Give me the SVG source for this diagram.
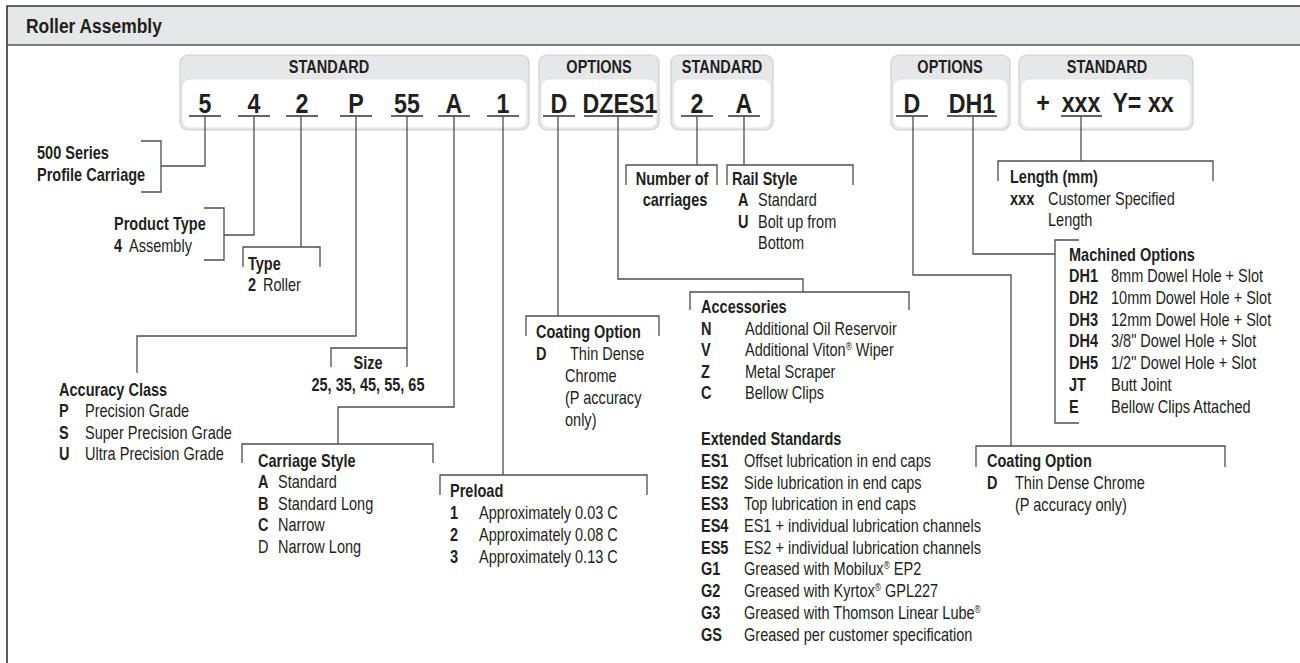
<svg xmlns="http://www.w3.org/2000/svg" width="1300" height="663" viewBox="0 0 1300 663">
<style>
text{font-family:"Liberation Sans",Arial,sans-serif;fill:#231f20;transform-box:fill-box;transform-origin:0 0;transform:scale(.83,1)}
.b{font-weight:bold;font-size:17.5px}
.r{font-size:17.5px}
.h{font-weight:bold;font-size:17.5px;text-anchor:middle;transform-origin:50% 0}
.c{font-weight:bold;font-size:28px;text-anchor:middle;transform-origin:50% 0}
.t{font-weight:bold;font-size:21px}
.m{text-anchor:middle;transform-origin:50% 0}
.box{fill:#e6e7e8;stroke:#cfd0d2;stroke-width:1.2}
.inner{fill:#fff;stroke:#e2e3e4;stroke-width:1}
.ul{stroke:#333;stroke-width:1.6}
.ln{fill:none;stroke:#4d4d4d;stroke-width:1.3}
.sup{font-size:10px}
</style>
<g id="frame">
<rect x="7" y="6" width="1300" height="39" fill="#e6e7e8"/>
<path d="M7,663 V6 H1300" fill="none" stroke="#333" stroke-width="1.6"/>
<line x1="7" y1="45" x2="1300" y2="45" stroke="#555" stroke-width="1.4"/>
<text class="t" x="26" y="33">Roller Assembly</text>
</g>
<g id="n-std1">
<rect class="box" x="180" y="55" width="349" height="75" rx="8"/>
<rect class="inner" x="182" y="79" width="345" height="49" rx="8"/>
<text class="h" x="329" y="73">STANDARD</text>
<text class="c" x="205" y="113">5</text>
<text class="c" x="254" y="113">4</text>
<text class="c" x="302" y="113">2</text>
<text class="c" x="356" y="113">P</text>
<text class="c" x="407" y="113">55</text>
<text class="c" x="454" y="113">A</text>
<text class="c" x="503" y="113">1</text>
<path class="ul" d="M189,116H221M238,116H270M286,116H318M340,116H372M391,116H423M438,116H470M487,116H519"/>
</g>
<g id="n-opt1">
<rect class="box" x="539" y="55" width="120" height="75" rx="8"/>
<rect class="inner" x="541" y="79" width="116" height="49" rx="8"/>
<text class="h" x="599" y="73">OPTIONS</text>
<text class="c" x="559" y="113">D</text>
<text class="c" x="620" y="113">DZES1</text>
<path class="ul" d="M543,116H575M584,116H653"/>
</g>
<g id="n-std2">
<rect class="box" x="671" y="55" width="102" height="75" rx="8"/>
<rect class="inner" x="673" y="79" width="98" height="49" rx="8"/>
<text class="h" x="722" y="73">STANDARD</text>
<text class="c" x="697" y="113">2</text>
<text class="c" x="744" y="113">A</text>
<path class="ul" d="M681,116H713M728,116H760"/>
</g>
<g id="n-opt2">
<rect class="box" x="891" y="55" width="119" height="75" rx="8"/>
<rect class="inner" x="893" y="79" width="115" height="49" rx="8"/>
<text class="h" x="950" y="73">OPTIONS</text>
<text class="c" x="912" y="113">D</text>
<text class="c" x="972" y="113">DH1</text>
<path class="ul" d="M896,116H928M947,116H997"/>
</g>
<g id="n-std3">
<rect class="box" x="1019" y="55" width="174" height="75" rx="8"/>
<rect class="inner" x="1021" y="79" width="170" height="49" rx="8"/>
<text class="h" x="1107" y="73">STANDARD</text>
<text class="c" x="1043" y="112">+</text>
<text class="c" x="1081" y="112">xxx</text>
<text class="c" x="1143" y="112">Y= xx</text>
<path class="ul" d="M1061,116H1102"/>
</g>
<g id="connectors" class="ln">
<path d="M205,116V166H161"/>
<path d="M254,116V235H224"/>
<path d="M301,116V247"/>
<path d="M356,116V336H137V373"/>
<path d="M407,116V348"/>
<path d="M454,116V407H338V444"/>
<path d="M503,116V475"/>
<path d="M558,116V316"/>
<path d="M618,116V279H803V292"/>
<path d="M697,116V165"/>
<path d="M744,116V165"/>
<path d="M913,116V275H1011V446"/>
<path d="M973,116V254H1055"/>
<path d="M1081,116V161"/>
</g>
<g id="n-series">
<path class="ln" d="M141,141H161V192H141"/>
<text class="b" x="37" y="159">500 Series</text>
<text class="b" x="37" y="181">Profile Carriage</text>
</g>
<g id="n-product">
<path class="ln" d="M204,208H224V260H204"/>
<text class="b" x="114" y="230">Product Type</text>
<text class="b" x="114" y="252">4</text><text class="r" x="129" y="252">Assembly</text>
</g>
<g id="n-type">
<path class="ln" d="M243,267V247H320V267"/>
<text class="b" x="248" y="270">Type</text>
<text class="b" x="248" y="291">2</text><text class="r" x="263" y="291">Roller</text>
</g>
<g id="n-accuracy">
<text class="b" x="59" y="396">Accuracy Class</text>
<text class="b" x="59" y="417">P</text><text class="r" x="85" y="417">Precision Grade</text>
<text class="b" x="59" y="439">S</text><text class="r" x="85" y="439">Super Precision Grade</text>
<text class="b" x="59" y="460">U</text><text class="r" x="85" y="460">Ultra Precision Grade</text>
</g>
<g id="n-size">
<path class="ln" d="M331,367V348H407V367"/>
<text class="b m" x="368" y="369">Size</text>
<text class="b m" x="368" y="391">25, 35, 45, 55, 65</text>
</g>
<g id="n-carriage">
<path class="ln" d="M242,463V444H433V463"/>
<text class="b" x="258" y="467">Carriage Style</text>
<text class="b" x="258" y="488">A</text><text class="r" x="278" y="488">Standard</text>
<text class="b" x="258" y="510">B</text><text class="r" x="278" y="510">Standard Long</text>
<text class="b" x="258" y="531">C</text><text class="r" x="278" y="531">Narrow</text>
<text class="r" x="258" y="553">D</text><text class="r" x="278" y="553">Narrow Long</text>
</g>
<g id="n-preload">
<path class="ln" d="M440,495V475H647V495"/>
<text class="b" x="450" y="497">Preload</text>
<text class="b" x="450" y="519">1</text><text class="r" x="479" y="519">Approximately 0.03 C</text>
<text class="b" x="450" y="541">2</text><text class="r" x="479" y="541">Approximately 0.08 C</text>
<text class="b" x="450" y="563">3</text><text class="r" x="479" y="563">Approximately 0.13 C</text>
</g>
<g id="n-coating1">
<path class="ln" d="M526,336V316H659V336"/>
<text class="b" x="536" y="338">Coating Option</text>
<text class="b" x="536" y="360">D</text><text class="r" x="570" y="360">Thin Dense</text>
<text class="r" x="565" y="382">Chrome</text>
<text class="r" x="565" y="404">(P accuracy</text>
<text class="r" x="565" y="426">only)</text>
</g>
<g id="n-carriages">
<path class="ln" d="M626,185V165H717V185"/>
<text class="b m" x="672" y="185">Number of</text>
<text class="b m" x="675" y="206">carriages</text>
</g>
<g id="n-rail">
<path class="ln" d="M727,185V165H853V185"/>
<text class="b" x="732" y="185">Rail Style</text>
<text class="b" x="738" y="206">A</text><text class="r" x="758" y="206">Standard</text>
<text class="b" x="738" y="228">U</text><text class="r" x="758" y="228">Bolt up from</text>
<text class="r" x="758" y="249">Bottom</text>
</g>
<g id="n-accessories">
<path class="ln" d="M690,310V292H909V310"/>
<text class="b" x="701" y="313">Accessories</text>
<text class="b" x="701" y="335">N</text><text class="r" x="745" y="335">Additional Oil Reservoir</text>
<text class="b" x="701" y="356">V</text><text class="r" x="745" y="356">Additional Viton<tspan class="sup" dy="-6">®</tspan><tspan dy="6"> Wiper</tspan></text>
<text class="b" x="701" y="378">Z</text><text class="r" x="745" y="378">Metal Scraper</text>
<text class="b" x="701" y="399">C</text><text class="r" x="745" y="399">Bellow Clips</text>
</g>
<g id="n-extended">
<text class="b" x="701" y="445">Extended Standards</text>
<text class="b" x="701" y="467">ES1</text><text class="r" x="744" y="467">Offset lubrication in end caps</text>
<text class="b" x="701" y="489">ES2</text><text class="r" x="744" y="489">Side lubrication in end caps</text>
<text class="b" x="701" y="510">ES3</text><text class="r" x="744" y="510">Top lubrication in end caps</text>
<text class="b" x="701" y="532">ES4</text><text class="r" x="744" y="532">ES1 + individual lubrication channels</text>
<text class="b" x="701" y="554">ES5</text><text class="r" x="744" y="554">ES2 + individual lubrication channels</text>
<text class="b" x="701" y="575">G1</text><text class="r" x="744" y="575">Greased with Mobilux<tspan class="sup" dy="-6">®</tspan><tspan dy="6"> EP2</tspan></text>
<text class="b" x="701" y="597">G2</text><text class="r" x="744" y="597">Greased with Kyrtox<tspan class="sup" dy="-6">®</tspan><tspan dy="6"> GPL227</tspan></text>
<text class="b" x="701" y="619">G3</text><text class="r" x="744" y="619">Greased with Thomson Linear Lube<tspan class="sup" dy="-6">®</tspan></text>
<text class="b" x="701" y="641">GS</text><text class="r" x="744" y="641">Greased per customer specification</text>
</g>
<g id="n-length">
<path class="ln" d="M998,181V161H1213V181"/>
<text class="b" x="1010" y="183">Length (mm)</text>
<text class="b" x="1010" y="205">xxx</text><text class="r" x="1048" y="205">Customer Specified</text>
<text class="r" x="1048" y="226">Length</text>
</g>
<g id="n-machined">
<path class="ln" d="M1079,240H1055V423H1079"/>
<text class="b" x="1069" y="261">Machined Options</text>
<text class="b" x="1069" y="282">DH1</text><text class="r" x="1111" y="282">8mm Dowel Hole + Slot</text>
<text class="b" x="1069" y="304">DH2</text><text class="r" x="1111" y="304">10mm Dowel Hole + Slot</text>
<text class="b" x="1069" y="326">DH3</text><text class="r" x="1111" y="326">12mm Dowel Hole + Slot</text>
<text class="b" x="1069" y="347">DH4</text><text class="r" x="1111" y="347">3/8&quot; Dowel Hole + Slot</text>
<text class="b" x="1069" y="369">DH5</text><text class="r" x="1111" y="369">1/2&quot; Dowel Hole + Slot</text>
<text class="b" x="1069" y="391">JT</text><text class="r" x="1111" y="391">Butt Joint</text>
<text class="b" x="1069" y="413">E</text><text class="r" x="1111" y="413">Bellow Clips Attached</text>
</g>
<g id="n-coating2">
<path class="ln" d="M976,467V446H1225V467"/>
<text class="b" x="987" y="467">Coating Option</text>
<text class="b" x="987" y="489">D</text><text class="r" x="1015" y="489">Thin Dense Chrome</text>
<text class="r" x="1015" y="511">(P accuracy only)</text>
</g>
</svg>
